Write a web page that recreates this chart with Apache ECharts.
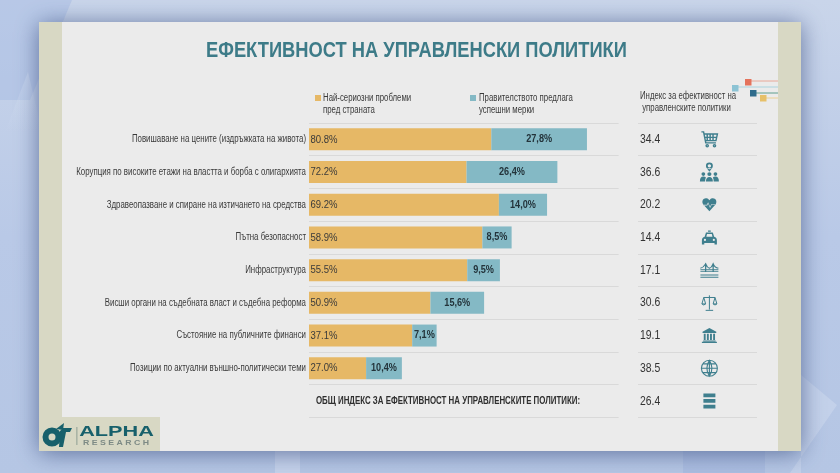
<!DOCTYPE html>
<html><head><meta charset="utf-8">
<style>html,body{margin:0;padding:0;background:#bccbe6}#c{width:840px;height:473px}</style>
<script src="https://cdn.jsdelivr.net/npm/echarts@6/dist/echarts.min.js"></script>
</head><body><div id="c"></div>
<script>
const categories = ['Повишаване на цените (издръжката на живота)','Корупция по високите етажи на властта и борба с олигархията','Здравеопазване и спиране на изтичането на средства','Пътна безопасност','Инфраструктура','Висши органи на съдебната власт и съдебна реформа','Състояние на публичните финанси','Позиции по актуални външно-политически теми'];
const problems = [80.8,72.2,69.2,58.9,55.5,50.9,37.1,27.0];
const measures = [27.8,26.4,14.0,8.5,9.5,15.6,7.1,10.4];
const indexValues = ['34.4','36.6','20.2','14.4','17.1','30.6','19.1','38.5','26.4'];
const totalLabel = 'ОБЩ ИНДЕКС ЗА ЕФЕКТИВНОСТ НА УПРАВЛЕНСКИТЕ ПОЛИТИКИ:';
const titleText = 'ЕФЕКТИВНОСТ НА УПРАВЛЕНСКИ ПОЛИТИКИ';
const seriesNames = ['Най-сериозни проблеми\nпред страната','Правителството предлага\nуспешни мерки'];
const indexHeader = 'Индекс за ефективност на\n управленските политики';

const SANS = '"Liberation Sans",sans-serif';
const TEAL = '#3f7f8e', GOLD = '#e6b866', BLUE = '#84b9c5', INK = '#3a3a3a';
const circ = (x,y,r,ccw) => `M${x-r} ${y}A${r} ${r} 0 1 ${ccw?0:1} ${x+r} ${y}A${r} ${r} 0 1 ${ccw?0:1} ${x-r} ${y}Z`;

const icons = [
 {stroke:1.4,size:[16,15],path:'M1 2H4L7 17H21M4.6 5H23L21 14H6.4M9 5V14M13 5V14M17 5V14M5.5 9.5H22'+circ(9,21,1.5)+circ(19,21,1.5)},
 {size:[19,19],path:circ(12,4,4)+circ(12,4,2,true)+'M9 7L12 11L15 7Z'+circ(5,14,2.2)+circ(12,14,2.4)+circ(19,14,2.2)+'M1 23Q1 17 5 17Q7 17 8 18Q7 20 7 23ZM8 23Q8 17.5 12 17.5Q16 17.5 16 23ZM17 23Q17 20 16 18Q17 17 19 17Q23 17 23 23Z'},
 {size:[14,13],path:'M12 22L2 11C-1 6 3 1 7.5 2C10 2.5 11 4 12 5C13 4 14 2.5 16.5 2C21 1 25 6 22 11ZM3 13H8.6L10 10L13 17L15.6 12H21V11H15L13 15L10 8L8 12H3Z'},
 {size:[15,14],path:'M10 1H14V3H10ZM5 10L7 4H17L19 10Q23 11 23 15V21H19.5V19H4.5V21H1V15Q1 11 5 10ZM7.5 10H16.5L15.5 6H8.5Z'+circ(5.5,14.5,1.6,true)+circ(18.5,14.5,1.6,true)},
 {stroke:1.1,size:[18,14],path:'M0 10H24M0 12.5H24M7 1V12.5M17 1V12.5M0 8Q4 7 7 2Q9 7 12 8Q15 7 17 2Q19 7 24 8M0 17H24M0 20H24'},
 {stroke:1,size:[15,15],path:'M12 1V21M6 22H18M3 4H21M3 4L0 13Q3 16 6 13L3 4M21 4L18 13Q21 16 24 13L21 4M0 13H6M18 13H24'},
 {size:[15,15],path:'M12 0L23 6V8H1V6ZM3 9H6V19H3ZM8 9H11V19H8ZM13 9H16V19H13ZM18 9H21V19H18ZM2 20H22V21.5H2ZM0 22H24V24H0Z'},
 {stroke:1.1,size:[16,16],path:circ(12,12,11)+'M12 1Q5 12 12 23Q19 12 12 1ZM1 12H23M12 1V23M3 6H21M3 18H21'},
 {size:[12,15],path:'M2 0H22V6H2ZM2 9H22V15H2ZM2 18H22V24H2Z'}
];

const rowNames = categories.concat(['']);
const rowLine = {show:true, lineStyle:{color:'#d9d9d9', width:1}};
const hiddenAxis = {show:false, axisLine:{show:false}, axisTick:{show:false}, axisLabel:{show:false}, splitLine:{show:false}};
const bandFill = '#d8d8c4';

// condensed text: no narrow face is installed, so regular faces are squeezed horizontally
function textSeries(points, texts, o){
  return {type:'custom', coordinateSystem:'cartesian2d', xAxisIndex:o.axis||0, yAxisIndex:o.axis||0,
    silent:true, z:10, clip:false, data:points,
    renderItem:(params,api)=>{
      const c = api.coord([api.value(0), api.value(1)]);
      return {type:'text', x:c[0]+(o.dx||0), y:c[1], scaleX:o.scale,
        style:{text:texts[params.dataIndex], align:o.align, verticalAlign:'middle', font:o.font, fill:o.fill}};
    }};
}
const gText = (x,y,text,font,fill,scale,align,lineHeight)=>({type:'text', z:5, silent:true, x, y, scaleX:scale,
  style:{text, font, fill, align:align||'left', verticalAlign:'middle', lineHeight:lineHeight}});

const option = {
 animation:false,
 legend:{left:315, top:95, padding:0, itemWidth:6, itemHeight:6, itemGap:144, selectedMode:false, icon:'rect',
   formatter:()=>'', textStyle:{fontSize:1, padding:0, lineHeight:1}, itemStyle:{borderWidth:0},
   data:seriesNames},
 grid:[{left:309, top:123, width:309.6, height:294.3},{left:638, top:123, width:119, height:294.3}],
 xAxis:[Object.assign({type:'value', min:0, max:90, gridIndex:0},hiddenAxis),
        Object.assign({type:'value', min:0, max:1, gridIndex:1},hiddenAxis)],
 yAxis:[{type:'category', inverse:true, data:rowNames, gridIndex:0,
         axisLine:{show:false}, axisTick:{show:false}, splitLine:rowLine, axisLabel:{show:false}},
        {type:'category', inverse:true, data:rowNames.map((_,i)=>i), gridIndex:1,
         axisLine:{show:false}, axisTick:{show:false}, splitLine:rowLine, axisLabel:{show:false}}],
 series:[
  {name:seriesNames[0], type:'bar', stack:'s', barWidth:22, itemStyle:{color:GOLD},
   data:problems.map((v,i)=>+(v-measures[i]).toFixed(1))},
  {name:seriesNames[1], type:'bar', stack:'s', barWidth:22, itemStyle:{color:BLUE}, data:measures},
  textSeries(categories.map((c,i)=>[0,i]), categories, {dx:-3, scale:.787, align:'right', font:'10px '+SANS, fill:INK}),
  textSeries(problems.map((v,i)=>[0,i]), problems.map(v=>v.toFixed(1)+'%'), {dx:1.5, scale:.83, align:'left', font:'11.5px '+SANS, fill:INK}),
  textSeries(problems.map((v,i)=>[v-measures[i]/2,i]), measures.map(v=>v.toFixed(1).replace('.',',')+'%'), {scale:.87, align:'center', font:'bold 10.5px '+SANS, fill:'#23333a'}),
  textSeries(indexValues.map((v,i)=>[0,i]), indexValues, {axis:1, dx:2, scale:.8, align:'left', font:'13px '+SANS, fill:'#333'}),
  {type:'scatter', xAxisIndex:1, yAxisIndex:1, silent:true,
   data:icons.map((ic,i)=>({value:[0.6,i], symbol:'path://'+ic.path, symbolSize:ic.size, symbolKeepAspect:false,
     itemStyle: ic.stroke ? {color:'none', borderColor:TEAL, borderWidth:ic.stroke, opacity:1}
                          : {color:TEAL, opacity:1}}))}
 ],
 graphic:[
  {type:'group', z:-10, silent:true, children:[
    {type:'rect', shape:{x:0,y:0,width:840,height:473},
     style:{fill:{type:'linear',x:0,y:0,x2:0,y2:1,colorStops:[{offset:0,color:'#c9d5ea'},{offset:.5,color:'#b9c9e7'},{offset:1,color:'#b5c6e4'}]}}},
    {type:'polygon', shape:{points:[[0,0],[72,0],[30,100],[0,100]]}, style:{fill:'rgba(170,190,228,.55)'}},
    {type:'polygon', shape:{points:[[5,132],[28,72],[42,132]]},
     style:{fill:{type:'linear',x:0,y:0,x2:0,y2:1,colorStops:[{offset:0,color:'rgba(220,230,245,.35)'},{offset:1,color:'rgba(220,230,245,0)'}]}}},
    {type:'polygon', shape:{points:[[801,375],[837,405],[790,473],[801,473]]}, style:{fill:'rgba(225,232,245,.3)'}},
    {type:'rect', shape:{x:275,y:451,width:25,height:22}, style:{fill:'rgba(225,232,245,.35)'}},
    {type:'rect', shape:{x:683,y:451,width:82,height:22}, style:{fill:'rgba(150,170,215,.3)'}},
    {type:'rect', shape:{x:39,y:22,width:762,height:429},
     style:{fill:'#ebebeb', shadowBlur:22, shadowColor:'rgba(55,75,125,.7)', shadowOffsetX:0, shadowOffsetY:2}},
    {type:'rect', shape:{x:39,y:22,width:23,height:429}, style:{fill:bandFill}},
    {type:'rect', shape:{x:778,y:22,width:23,height:429}, style:{fill:bandFill}},
    {type:'rect', shape:{x:40,y:417,width:120,height:34}, style:{fill:bandFill}},
    {type:'line', shape:{x1:750,y1:81,x2:778,y2:81}, style:{stroke:'#e8a898',lineWidth:1}},
    {type:'line', shape:{x1:738,y1:87,x2:778,y2:87}, style:{stroke:'#a9d3de',lineWidth:1}},
    {type:'line', shape:{x1:755,y1:93,x2:778,y2:93}, style:{stroke:'#5f9e8e',lineWidth:1}},
    {type:'line', shape:{x1:765,y1:98,x2:778,y2:98}, style:{stroke:'#ecd093',lineWidth:1}},
    {type:'rect', shape:{x:745,y:79,width:6.5,height:6.5}, style:{fill:'#e4735c'}},
    {type:'rect', shape:{x:732,y:85,width:6.5,height:6.5}, style:{fill:'#8cc3d4'}},
    {type:'rect', shape:{x:750,y:90,width:6.5,height:6.5}, style:{fill:'#2f6c8c'}},
    {type:'rect', shape:{x:760,y:95,width:6.5,height:6.5}, style:{fill:'#e7c069'}}
  ]},
  gText(416.5,51,titleText,'bold 22px '+SANS,'#3d7b88',.832,'center'),
  gText(448,401,totalLabel,'bold 10px '+SANS,'#2e2e2e',.79,'center'),
  gText(640,102,indexHeader,'10px '+SANS,INK,.78,'left',12),
  gText(323,104,seriesNames[0],'10px '+SANS,INK,.78,'left',12),
  gText(479,104,seriesNames[1],'10px '+SANS,INK,.78,'left',12),
  {type:'group', z:5, silent:true, children:[
    {type:'ring', shape:{cx:52,cy:437,r:9.5,r0:3.5}, style:{fill:'#17606b'}},
    {type:'polygon', shape:{points:[[60,431],[63,428],[72,428],[70,432],[66,432],[63,447],[59,447]]}, style:{fill:'#17606b'}},
    {type:'polygon', shape:{points:[[56,429],[64,423],[63,430]]}, style:{fill:'#17606b'}},
    {type:'rect', shape:{x:76.5,y:427,width:.8,height:18}, style:{fill:'#7d8f86'}},
    {type:'text', x:116.5, y:432.5, scaleX:1.55, style:{text:'ALPHA', align:'center', verticalAlign:'middle', font:'bold 14px "Liberation Sans",sans-serif', fill:'#17606b'}},
    {type:'text', x:116, y:443.5, scaleX:1.25, style:{text:'R E S E A R C H', align:'center', verticalAlign:'middle', font:'bold 7px "Liberation Sans",sans-serif', fill:'#7d8a85'}}
  ]}
 ]
};
const chart = echarts.init(document.getElementById('c'), null, {renderer:'canvas', width:840, height:473});
chart.setOption(option);
</script></body></html>
